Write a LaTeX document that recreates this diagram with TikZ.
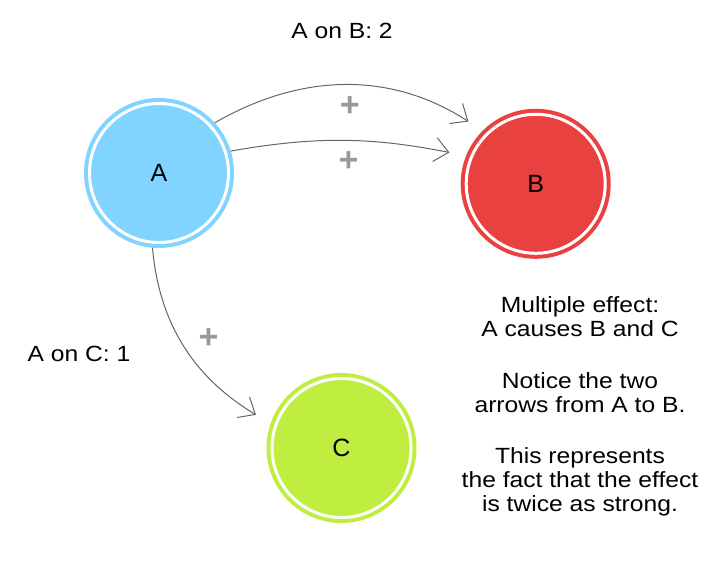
\documentclass[tikz,border=0pt]{standalone}
\usepackage{fontspec}
\setmainfont{Liberation Sans}
\newfontfamily\bodyfont[FakeStretch=1.12]{Liberation Sans}
\usetikzlibrary{arrows.meta}
\definecolor{cA}{RGB}{128,212,255}
\definecolor{cB}{RGB}{233,64,64}
\definecolor{cC}{RGB}{192,238,64}
\definecolor{edgegray}{RGB}{102,102,102}
\definecolor{plusgray}{RGB}{153,153,153}
\tikzset{
  var/.style={circle, minimum size=139pt, inner sep=0pt, outer sep=5.5pt,
    fill=#1, draw=#1, line width=4pt, double=white, double distance=3pt,
    font=\fontsize{25}{30}\selectfont},
  link/.style={draw=edgegray, line width=1pt,
    -{Straight Barb[length=14pt,width=24pt]}, shorten >=17pt},
  plus/.style={text=plusgray, font=\fontsize{34}{40}\selectfont\bfseries, inner sep=0pt},
  caption/.style={font=\bodyfont\fontsize{22}{24}\selectfont, inner sep=0pt, align=center}
}
\begin{document}
\begin{tikzpicture}[x=1pt,y=1pt]
  \fill[white] (0,0) rectangle (727,562);
  \useasboundingbox (0,0) rectangle (727,562);

  \node[var=cA] (A) at (159,389) {A};
  \node[var=cB] (B) at (535.7,378.2) {B};
  \node[var=cC] (C) at (341.5,114) {C};

  \draw[link] (A.42) to[out=30,in=147] node[plus, yshift=-21pt] (p1) {+} (B.135);
  \draw[link] (A.17.5) to[out=10,in=169] node[plus, yshift=-20.5pt] (p2) {+} (B.158);
  \draw[link] (A.265) to[out=-85,in=149] node[plus, xshift=21pt, yshift=12.5pt] (p3) {+} (C.161);

  \node[caption] (lab1) at (342,531) {A on B: 2};
  \node[caption] (lab2) at (79,208) {A on C: 1};
  \node[caption, anchor=north] (note) at (580,265.6) {Multiple effect:\\ A causes B and C\\[27.6pt] Notice the two\\ arrows from A to B.\\[27.6pt] This represents\\ the fact that the effect\\ is twice as strong.};
\end{tikzpicture}
\end{document}
